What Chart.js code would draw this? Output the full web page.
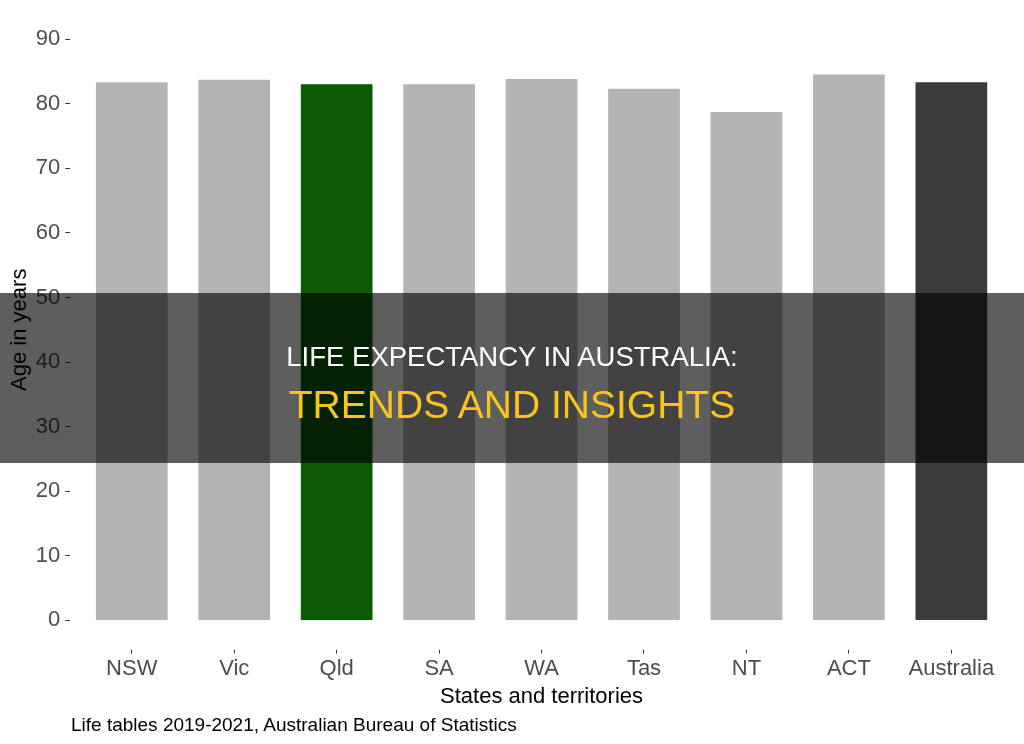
<!DOCTYPE html>
<html>
<head>
<meta charset="utf-8">
<script src="https://cdn.jsdelivr.net/npm/chart.js@4.4.0/dist/chart.umd.min.js"></script>
<style>
  body { margin: 0; background: #fff; }
  #wrap { position: relative; width: 1024px; height: 744px; font-family: 'Liberation Sans', Arial, sans-serif; }
  #grafico { position: absolute; left: 0; top: 0; }
  #fuente { position: absolute; left: 71px; top: 714.6px; font-size: 19px; line-height: 1; color: #000; white-space: nowrap; }
  #banner { position: absolute; left: 0; top: 293px; width: 1024px; height: 170px; background: rgba(0, 0, 0, 0.63); }
  #banner div { position: absolute; left: 0; width: 1024px; text-align: center; line-height: 1; white-space: nowrap; }
  #linea1 { top: 50px; font-size: 27.5px; color: #fff; }
  #linea2 { top: 92px; font-size: 39px; color: #f8c41e; }
</style>
</head>
<body>
<div id="wrap">
  <canvas id="grafico" width="1024" height="744"></canvas>
  <div id="fuente">Life tables 2019-2021, Australian Bureau of Statistics</div>
  <div id="banner">
    <div id="linea1">LIFE EXPECTANCY IN AUSTRALIA:</div>
    <div id="linea2">TRENDS AND INSIGHTS</div>
  </div>
</div>
<script>
const estados = ['NSW', 'Vic', 'Qld', 'SA', 'WA', 'Tas', 'NT', 'ACT', 'Australia'];
const edades = [83.3, 83.7, 83.0, 83.0, 83.8, 82.3, 78.7, 84.5, 83.3];
const marcasY = [0, 10, 20, 30, 40, 50, 60, 70, 80, 90];

const colores = ['#b3b3b3', '#b3b3b3', '#0b5a05', '#b3b3b3', '#b3b3b3', '#b3b3b3', '#b3b3b3', '#b3b3b3', '#3b3b3b'];
const fuente = "'Liberation Sans', Arial, sans-serif";

const ctx = document.getElementById('grafico');

window.grafica = new Chart(ctx, {
  type: 'bar',
  data: {
    datasets: [{
      data: edades.map((v, i) => ({ x: i, y: v })),
      backgroundColor: colores,
      borderWidth: 0,
      barPercentage: 0.7,
      categoryPercentage: 1
    }]
  },
  options: {
    responsive: false,
    animation: false,
    layout: { padding: { top: 10, right: 11.2, bottom: 33.7, left: 0 } },
    plugins: {
      legend: { display: false },
      tooltip: { enabled: false }
    },
    scales: {
      x: {
        type: 'linear',
        min: -0.6,
        max: 8.6,
        offset: false,
        afterBuildTicks: (scale) => { scale.ticks = estados.map((e, i) => ({ value: i })); },
        afterFit: (scale) => { scale.paddingLeft = 0; scale.paddingRight = 0; },
        ticks: {
          autoSkip: false,
          maxRotation: 0,
          padding: 2,
          color: '#4d4d4d',
          font: { family: fuente, size: 22 },
          callback: (v) => estados[v]
        },
        grid: { offset: false, drawOnChartArea: false, drawTicks: true, tickLength: 4, tickColor: '#333', tickWidth: 1 },
        border: { display: false },
        title: {
          display: true,
          text: 'States and territories',
          color: '#000',
          font: { family: fuente, size: 22 },
          padding: { top: 0, bottom: 0 }
        }
      },
      y: {
        min: -4.5,
        max: 94.5,
        afterBuildTicks: (scale) => { scale.ticks = marcasY.map(v => ({ value: v })); },
        afterFit: (scale) => { scale.width = 70.3; scale.paddingTop = 0; scale.paddingBottom = 0; },
        ticks: {
          padding: 5,
          color: '#4d4d4d',
          font: { family: fuente, size: 22 }
        },
        grid: { drawOnChartArea: false, drawTicks: true, tickLength: 5, tickColor: '#333', tickWidth: 1 },
        border: { display: false },
        title: {
          display: true,
          text: 'Age in years',
          color: '#000',
          font: { family: fuente, size: 22 },
          padding: { top: 7, bottom: 0 }
        }
      }
    }
  }
});
</script>
</body>
</html>
